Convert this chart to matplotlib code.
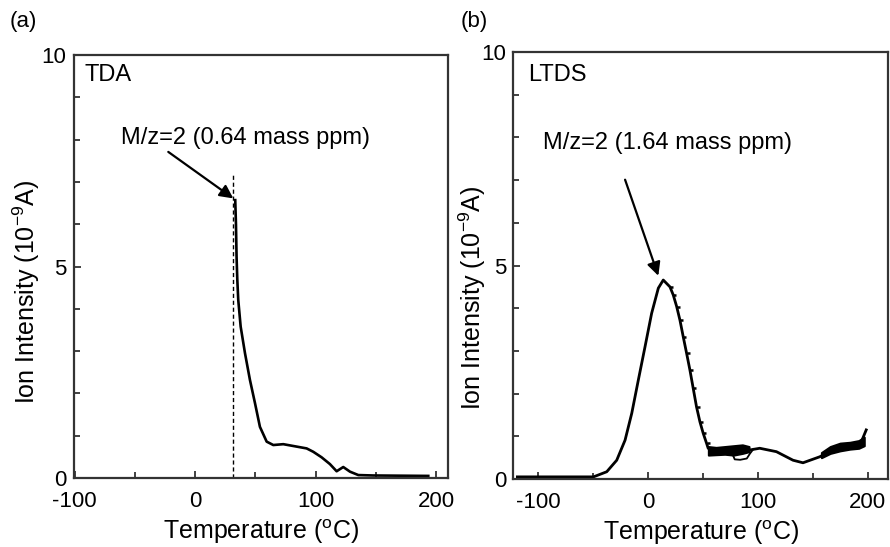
import numpy as np
from matplotlib import pyplot as plt

plt.rcParams['font.family'] = ['Liberation Sans', 'DejaVu Sans']
plt.rcParams['mathtext.fontset'] = 'custom'
plt.rcParams['mathtext.rm'] = 'Liberation Sans'
plt.rcParams['axes.unicode_minus'] = False

# (a) TDA curve
a_temp = [33.3, 33.9, 34.4, 35.0, 35.8, 37.8, 41.4, 45.5, 49.7, 53.8, 59.4, 64.9,
          73.2, 92.6, 98.1, 105.0, 111.9, 117.5, 123.0, 128.6, 135.5, 148.0, 193.6]
a_ion = [6.57, 6.0, 5.23, 4.7, 4.21, 3.58, 2.95, 2.32, 1.77, 1.21, 0.86, 0.78,
         0.80, 0.70, 0.62, 0.49, 0.33, 0.16, 0.26, 0.15, 0.07, 0.06, 0.05]
a_dash_temp = 31.7
a_dash_top = 7.16

# (b) LTDS curve
b_temp = [-119, -49.7, -37.6, -28.5, -20.9, -14.8, -8.8, -2.7, 3.3, 9.4, 13.9,
          20.0, 23.0, 26.1, 29.1, 32.1, 35.2, 38.2, 41.2, 44.2, 47.3, 50.3,
          53.3, 54.8, 62.4, 77.6, 92.7, 101.8, 117.0, 132.1, 141.2, 156.4,
          171.5, 186.7, 194.3, 198.8]
b_ion = [0.05, 0.05, 0.17, 0.44, 0.91, 1.54, 2.32, 3.10, 3.88, 4.47, 4.66,
         4.50, 4.31, 4.04, 3.72, 3.33, 2.94, 2.55, 2.12, 1.69, 1.34, 1.07,
         0.84, 0.72, 0.64, 0.68, 0.68, 0.72, 0.64, 0.44, 0.38, 0.52,
         0.72, 0.80, 0.87, 1.15]
# noisy parts of the LTDS trace
b_band1_temp = [55, 62, 70, 78, 86, 92]
b_band1_lo = [0.56, 0.57, 0.58, 0.56, 0.60, 0.64]
b_band1_hi = [0.76, 0.74, 0.76, 0.78, 0.80, 0.76]
b_loop_temp = [76, 79, 84, 90, 93, 96]
b_loop_ion = [0.64, 0.46, 0.45, 0.48, 0.60, 0.70]
b_band2_temp = [158, 166, 175, 184, 192, 197]
b_band2_lo = [0.50, 0.60, 0.66, 0.70, 0.72, 0.78]
b_band2_hi = [0.62, 0.76, 0.84, 0.86, 0.90, 0.98]

fig = plt.figure(figsize=(8.9, 5.47), dpi=100)
ax1 = fig.add_axes([0.0826, 0.1261, 0.4208, 0.7733])
ax2 = fig.add_axes([0.5764, 0.1243, 0.4218, 0.7806])

def style(ax, xlim, ylab_x, ylab_y):
    ax.set_xlim(*xlim)
    ax.set_ylim(0, 10)
    ax.set_xticks([-100, 0, 100, 200])
    ax.set_xticks([-50, 50, 150], minor=True)
    ax.set_yticks([0, 5, 10])
    ax.set_yticks([1, 2, 3, 4, 6, 7, 8, 9], minor=True)
    ax.tick_params(which='both', direction='in', top=False, right=False,
                   labelsize=16, width=1.3, color='#333333')
    ax.tick_params(which='major', length=5)
    ax.tick_params(which='minor', length=4)
    ax.tick_params(axis='x', pad=9)
    ax.tick_params(axis='y', pad=5)
    for s in ax.spines.values():
        s.set_linewidth(1.6)
        s.set_color('#333333')
    ax.set_xlabel('Temperature ($^{\\mathrm{o}}$C)', fontsize=18, labelpad=4)
    ax.set_ylabel('Ion Intensity (10$^{-9}$A)', fontsize=18)
    ax.yaxis.set_label_coords(ylab_x, ylab_y)

style(ax1, (-101, 210), -0.084, 0.44)
style(ax2, (-123, 219), -0.066, 0.424)

# panel (a)
ax1.plot(a_temp, a_ion, color='k', lw=1.9, solid_joinstyle='round')
ax1.plot([a_dash_temp, a_dash_temp], [0, a_dash_top], color='k', lw=1.0,
         ls=(0, (3, 2)))
ax1.annotate('', xy=(31.7, 6.61), xytext=(-22.3, 7.71),
             arrowprops=dict(arrowstyle='-|>', color='k', lw=1.6,
                             mutation_scale=20, shrinkA=0, shrinkB=0))
ax1.text(41.5, 8.04, 'M/z=2 (0.64 mass ppm)', fontsize=17, ha='center', va='center')
ax1.text(-91.5, 9.53, 'TDA', fontsize=17, ha='left', va='center')

# panel (b)
ax2.plot(b_temp, b_ion, color='k', lw=2.0, solid_joinstyle='round')
# saw-tooth look on the falling side
ax2.plot(b_temp[11:23], b_ion[11:23], color='k', lw=0, marker=1, ms=2.5, mew=1.8)
ax2.fill_between(b_band1_temp, b_band1_lo, b_band1_hi, color='k', lw=1.5)
ax2.plot(b_loop_temp, b_loop_ion, color='k', lw=1.3)
ax2.fill_between(b_band2_temp, b_band2_lo, b_band2_hi, color='k', lw=1.5)
ax2.annotate('', xy=(9.4, 4.76), xytext=(-20.9, 7.01),
             arrowprops=dict(arrowstyle='-|>', color='k', lw=1.6,
                             mutation_scale=20, shrinkA=0, shrinkB=0))
ax2.text(18, 7.87, 'M/z=2 (1.64 mass ppm)', fontsize=17, ha='center', va='center')
ax2.text(-109, 9.46, 'LTDS', fontsize=17, ha='left', va='center')

fig.text(23 / 890, 1 - 22 / 547, '(a)', fontsize=16, ha='center', va='center')
fig.text(474 / 890, 1 - 22 / 547, '(b)', fontsize=16, ha='center', va='center')

fig.savefig('out.png', dpi=100)
